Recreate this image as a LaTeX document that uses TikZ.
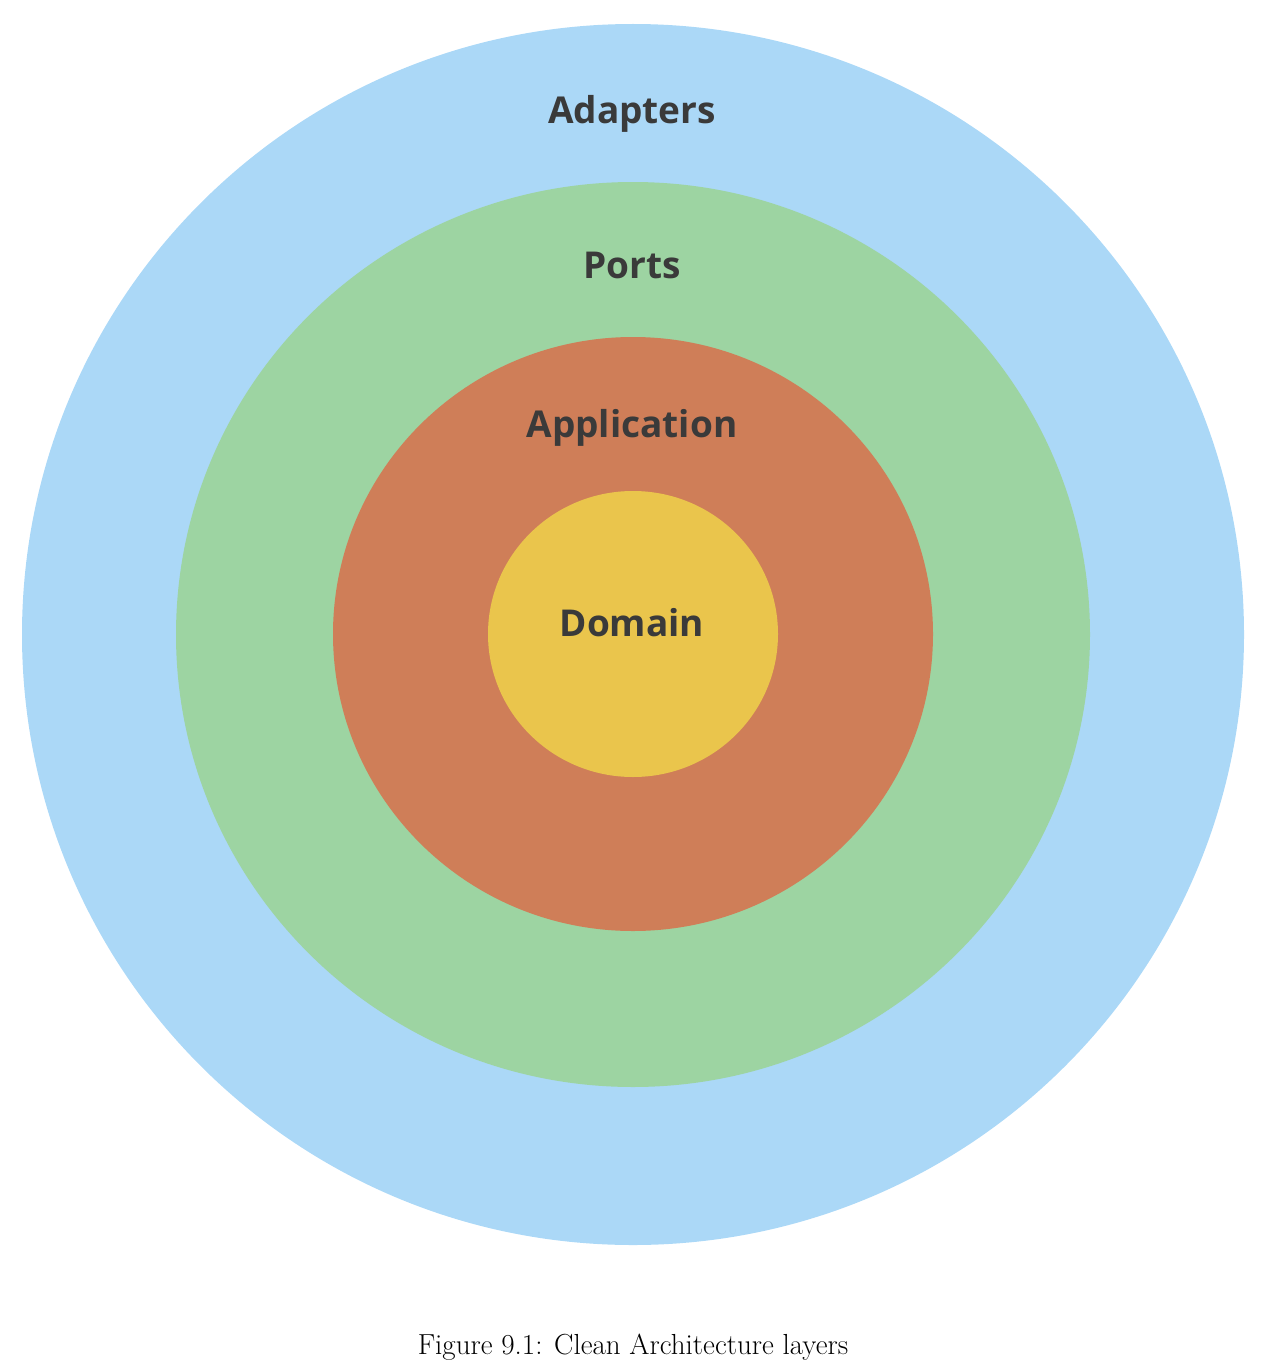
\documentclass[tikz,border=0pt]{standalone}
\usepackage{fontspec}
\newfontfamily\labelfont{Open Sans}
\definecolor{adapterblue}{RGB}{171,216,247}
\definecolor{portgreen}{RGB}{157,212,162}
\definecolor{apporange}{RGB}{207,126,88}
\definecolor{domyellow}{RGB}{234,197,76}
\definecolor{labelgray}{RGB}{58,58,58}
\begin{document}
\begin{tikzpicture}[x=1pt,y=-1pt,
  layerlabel/.style={anchor=base,inner sep=0pt,text=labelgray,font=\labelfont\bfseries\fontsize{37}{44}\selectfont}]
\useasboundingbox (0,0) rectangle (1262,1370);
\fill[adapterblue] (633,634.5) ellipse [x radius=611, y radius=610.5];
\fill[portgreen] (633,634.5) ellipse [x radius=457, y radius=452.5];
\fill[apporange] (633,634) ellipse [x radius=300, y radius=297];
\fill[domyellow] (633,634) ellipse [x radius=145, y radius=143];
\node[layerlabel] (adapters) at (632,124) {Adapters};
\node[layerlabel] (ports) at (632,278) {Ports};
\node[layerlabel] (application) at (632,437) {Application};
\node[layerlabel] (domain) at (632,636) {Domain};
\node[anchor=base,inner sep=0pt,font=\fontsize{29}{35}\selectfont] (caption) at (633,1354) {Figure 9.1: Clean Architecture layers};
\end{tikzpicture}
\end{document}
